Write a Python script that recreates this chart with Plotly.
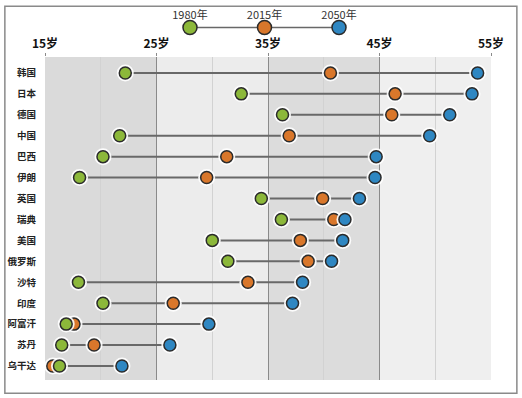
import plotly.graph_objects as go

countries = ["韩国", "日本", "德国", "中国", "巴西", "伊朗", "英国", "瑞典", "美国",
             "俄罗斯", "沙特", "印度", "阿富汗", "苏丹", "乌干达"]
age_1980 = [22.2, 32.6, 36.3, 21.7, 20.2, 18.1, 34.4, 36.2, 30.0, 31.4, 18.0, 20.2, 16.9, 16.5, 16.3]
age_2015 = [40.6, 46.4, 46.1, 36.9, 31.3, 29.5, 39.9, 40.9, 37.9, 38.6, 33.2, 26.5, 17.6, 19.4, 15.7]
age_2050 = [53.8, 53.3, 51.3, 49.5, 44.7, 44.6, 43.2, 41.9, 41.7, 40.7, 38.1, 37.2, 29.7, 26.2, 21.9]
years = ["1980年", "2015年", "2050年"]
tick_ages = [15, 25, 35, 45, 55]
tick_labels = ["15岁", "25岁", "35岁", "45岁", "55岁"]

GREEN = "#8cb83a"
ORANGE = "#d9772b"
BLUE = "#2f87c2"
OUT = "#2b2b2b"
FONT = "Noto Sans CJK SC"

rows = list(range(len(countries)))

fig = go.Figure()

# connecting lines
lx, ly = [], []
for i in rows:
    vals = [age_1980[i], age_2015[i], age_2050[i]]
    lx += [min(vals), max(vals), None]
    ly += [i, i, None]
fig.add_trace(go.Scatter(x=lx, y=ly, mode="lines", line=dict(color="#686868", width=2),
                         hoverinfo="skip", showlegend=False))

def dots(xs, color, name):
    fig.add_trace(go.Scatter(x=xs, y=rows, mode="markers",
                             marker=dict(size=17, color="rgba(255,255,255,0.9)", line=dict(width=0)),
                             hoverinfo="skip", showlegend=False))
    fig.add_trace(go.Scatter(x=xs, y=rows, mode="markers", name=name,
                             marker=dict(size=12, color=color, line=dict(width=1.5, color=OUT)),
                             showlegend=False))

dots(age_2015, ORANGE, years[1])
dots(age_1980, GREEN, years[0])
dots(age_2050, BLUE, years[2])

# legend drawn as small chart on secondary axes
leg_x = [0, 1, 2]
fig.add_trace(go.Scatter(x=leg_x, y=[0.5] * 3, xaxis="x2", yaxis="y2", mode="lines",
                         line=dict(color="#686868", width=1.5), hoverinfo="skip", showlegend=False))
fig.add_trace(go.Scatter(x=leg_x, y=[0.5] * 3, xaxis="x2", yaxis="y2", mode="markers",
                         marker=dict(size=14, color=[GREEN, ORANGE, BLUE], line=dict(width=1.5, color=OUT)),
                         hoverinfo="skip", showlegend=False))
fig.add_trace(go.Scatter(x=leg_x, y=[0.74] * 3, xaxis="x2", yaxis="y2", mode="text",
                         text=years, textposition="middle center",
                         textfont=dict(family=FONT, size=11, color="#333333"),
                         hoverinfo="skip", showlegend=False))

# background bands
band_colors = ["#dadada", "#ececec", "#dcdcdc", "#efefef"]
shapes = []
for k in range(len(tick_ages) - 1):
    shapes.append(dict(type="rect", xref="x", yref="y", x0=tick_ages[k], x1=tick_ages[k + 1],
                       y0=14.67, y1=-0.76, fillcolor=band_colors[k], line=dict(width=0), layer="below"))
# outer frame
shapes.append(dict(type="rect", xref="paper", yref="paper", x0=-0.090, x1=1.058, y0=-0.035, y1=0.997,
                   line=dict(color="#8a8a8a", width=1.5), fillcolor="rgba(0,0,0,0)", layer="below"))

fig.update_layout(
    width=522, height=398,
    margin=dict(l=45, r=31, t=5, b=18, autoexpand=False),
    paper_bgcolor="white", plot_bgcolor="rgba(0,0,0,0)",
    font=dict(family=FONT, color="#222222"),
    shapes=shapes,
    xaxis=dict(range=[15, 55], side="top", tickvals=tick_ages, ticktext=tick_labels,
               tickfont=dict(family=FONT, size=12, color="#111111", weight="bold"),
               showgrid=True, gridcolor="#8a8a8a", gridwidth=1,
               minor=dict(tickvals=[20, 30, 40, 50], showgrid=True, gridcolor="#d2d2d2", gridwidth=1),
               ticks="outside", ticklen=3, tickcolor="#8a8a8a", zeroline=False, showline=False,
               anchor="y", fixedrange=True, automargin=False),
    yaxis=dict(domain=[0, 0.8613], range=[14.67, -0.76], tickvals=rows, ticktext=countries,
               tickfont=dict(family=FONT, size=9.5, color="#222222", weight="bold"),
               showgrid=False, zeroline=False, showline=False, ticks="", ticklabelstandoff=8,
               fixedrange=True, automargin=False),
    xaxis2=dict(domain=[0, 1], range=[-1.946, 4.04], anchor="y2", visible=False, fixedrange=True),
    yaxis2=dict(domain=[0.88, 1.0], range=[0, 1], anchor="x2", visible=False, fixedrange=True),
)

fig.write_html("out.html", config={"displayModeBar": False},
               post_script="document.body.style.margin='0';document.body.style.overflow='hidden';")
